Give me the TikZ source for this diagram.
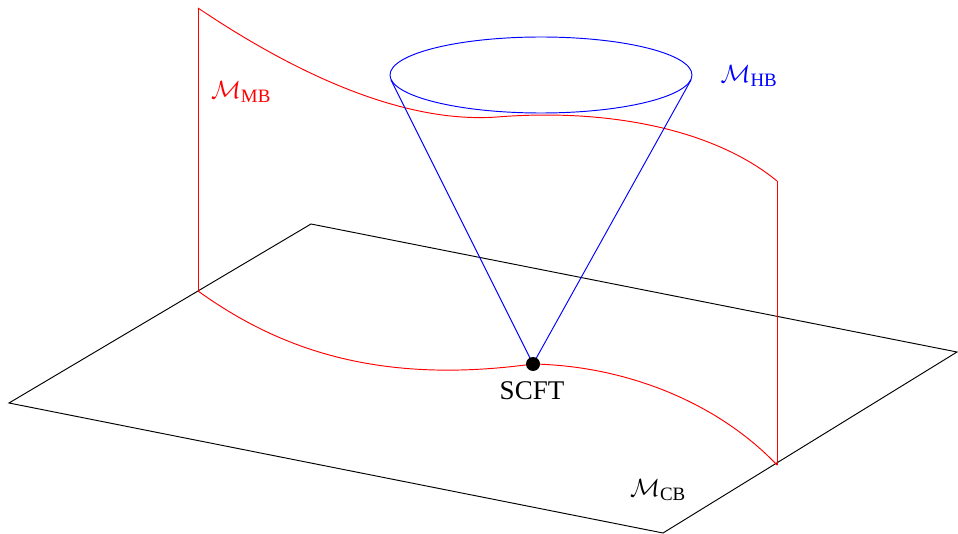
\documentclass[tikz,border=0pt]{standalone}
\usepackage{fontspec}
\setmainfont{Liberation Serif}
\begin{document}
\begin{tikzpicture}[x=1pt,y=-1pt,
  edge/.style={line width=0.95pt},
  lbl/.style={font=\fontsize{27}{30}\selectfont, inner sep=0pt}]
\useasboundingbox (0,0) rectangle (958,534);
% plane
\coordinate (pL) at (9,403);
\coordinate (pT) at (311,224);
\coordinate (pR) at (957,352);
\coordinate (pB) at (663,533);
\draw[edge,black] (pL) -- (pT) -- (pR) -- (pB) -- cycle;
% red surface
\coordinate (a1) at (198,291);
\coordinate (a2) at (198,8);
\coordinate (b1) at (777,465);
\coordinate (b2) at (777,181);
\coordinate (apex) at (533,364);
\coordinate (tm) at (497,117);
\draw[edge,red] (a1) -- (a2);
\draw[edge,red] (b1) -- (b2);
\draw[edge,red] (a1) .. controls (280,350) and (380,385) .. (apex)
                     .. controls (630,366) and (720,405) .. (b1);
\draw[edge,red] (a2) .. controls (290,70) and (400,124) .. (tm)
                     .. controls (610,108) and (715,130) .. (b2);
% cone
\coordinate (tl) at (391,80);
\coordinate (tr) at (691,80);
\draw[edge,blue] (541,75) ellipse [x radius=151, y radius=38];
\draw[edge,blue] (tl) -- (apex) -- (tr);
\node[circle,fill=black,minimum size=14pt,inner sep=0pt] (dot) at (apex) {};
% labels
\node[lbl,red] (mb) at (241,92) {$\mathcal{M}_{\mathrm{MB}}$};
\node[lbl,blue] (hb) at (749,76) {$\mathcal{M}_{\mathrm{HB}}$};
\node[lbl,black] (cb) at (658,490) {$\mathcal{M}_{\mathrm{CB}}$};
\node[lbl,black,anchor=north] (scft) at (532,381) {SCFT};
\end{tikzpicture}
\end{document}
